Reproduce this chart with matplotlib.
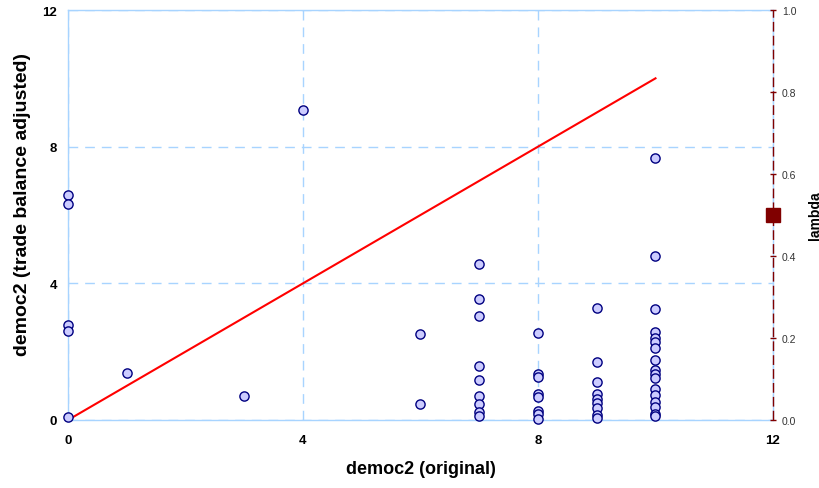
import matplotlib
matplotlib.use("Agg")
import matplotlib.pyplot as plt

plt.rcParams['font.family'] = ['Liberation Sans', 'DejaVu Sans']

# democ2 scores: original vs. trade balance adjusted
democ_orig = [0, 0, 0, 0, 0,
              1, 3, 4,
              6, 6,
              7, 7, 7, 7, 7, 7, 7, 7, 7,
              8, 8, 8, 8, 8, 8, 8, 8,
              9, 9, 9, 9, 9, 9, 9, 9, 9,
              10, 10, 10, 10, 10, 10, 10, 10, 10, 10, 10, 10, 10, 10, 10, 10, 10]
democ_adj = [6.58, 6.31, 2.78, 2.61, 0.09,
             1.37, 0.69, 9.08,
             2.51, 0.46,
             4.58, 3.53, 3.04, 1.58, 1.18, 0.71, 0.47, 0.22, 0.12,
             2.55, 1.35, 1.25, 0.76, 0.66, 0.27, 0.18, 0.03,
             3.29, 1.69, 1.10, 0.76, 0.61, 0.49, 0.34, 0.15, 0.05,
             7.66, 4.80, 3.25, 2.57, 2.39, 2.27, 2.11, 1.76, 1.46, 1.34, 1.22, 0.91,
             0.73, 0.54, 0.37, 0.18, 0.11]

# 45-degree reference line
diag_x = [0, 10]
diag_y = [0, 10]

lambda_value = 0.5

xticks = [0, 4, 8, 12]
yticks = [0, 4, 8, 12]
lambda_ticks = [0.0, 0.2, 0.4, 0.6, 0.8, 1.0]

grid_col = "#a8d4ff"

fig = plt.figure(figsize=(8.2, 4.89), dpi=100)
ax = fig.add_axes([68 / 820, 1 - 421 / 489, (773 - 68) / 820, (421 - 11) / 489])

ax.plot(diag_x, diag_y, color="red", linewidth=1.5, zorder=2)
ax.scatter(democ_orig, democ_adj, s=44, facecolor="#ccccff", edgecolor="#000080",
           linewidth=1.0, zorder=3, clip_on=False)

ax.set_xlim(0, 12)
ax.set_ylim(0, 12)
ax.set_xticks(xticks)
ax.set_yticks(yticks)
ax.set_xticklabels([str(t) for t in xticks], fontweight="bold", fontsize=9.5)
ax.set_yticklabels([str(t) for t in yticks], fontweight="bold", fontsize=9.5)
ax.tick_params(length=0, pad=8)
ax.tick_params(axis="x", pad=10)
ax.grid(True, color=grid_col, linestyle=(0, (7, 5)), linewidth=1.0)
for s in ax.spines.values():
    s.set_color(grid_col)
    s.set_linewidth(1.0)

ax.set_xlabel("democ2 (original)", fontsize=13, fontweight="bold", labelpad=10)
ax.set_ylabel("democ2 (trade balance adjusted)", fontsize=14, fontweight="bold")
ax.yaxis.set_label_coords(-0.053, 0.527)

# lambda on the secondary axis
ax2 = ax.twinx()
ax2.set_ylim(0, 1)
ax2.set_yticks(lambda_ticks)
ax2.set_yticklabels(["%.1f" % t for t in lambda_ticks], fontsize=7.5, color="#333333")
ax2.tick_params(axis="y", direction="inout", length=5, width=1, color="#800000", pad=4)
for name, s in ax2.spines.items():
    s.set_visible(False)
ax2.axvline(12, color="#800000", linestyle=(0, (7, 3)), linewidth=1.0, clip_on=False)
ax2.plot([12], [lambda_value], marker="s", markersize=10, color="#800000",
         linestyle="none", clip_on=False, zorder=5)
ax2.set_ylabel("lambda", fontsize=10, fontweight="bold", labelpad=8)

fig.savefig("out.png", dpi=100)
